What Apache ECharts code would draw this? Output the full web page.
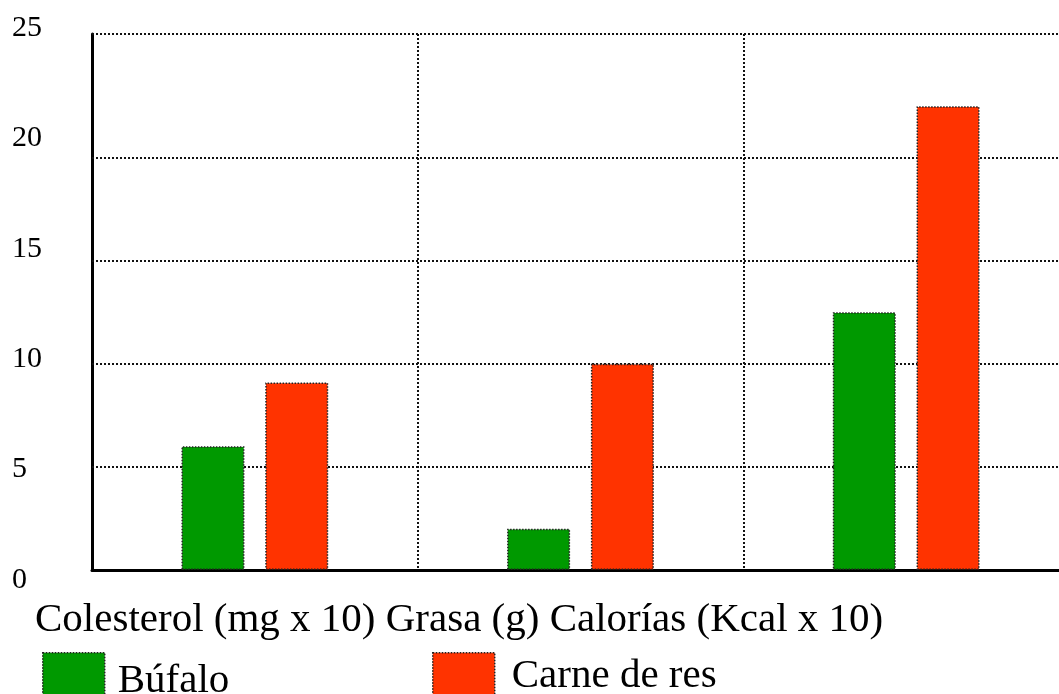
<!DOCTYPE html>
<html>
<head>
<meta charset="utf-8">
<script src="https://cdn.jsdelivr.net/npm/echarts@6/dist/echarts.min.js"></script>
<style>
html,body{margin:0;padding:0;background:#fff;overflow:hidden;}
#chart{width:1069px;height:694px;}
</style>
</head>
<body>
<div id="chart"></div>
<script>
var categories = ['Colesterol (mg x 10)', 'Grasa (g)', 'Calorías (Kcal x 10)'];
var seriesNames = ['Búfalo', 'Carne de res'];
var bufaloValues = [6, 2, 12.5];
var carneValues = [9.1, 10, 22.5];
var gridLineValues = [5, 10, 15, 20, 26];

var FONT = 'Liberation Serif';
var chart = echarts.init(document.getElementById('chart'), null, {renderer: 'canvas'});

var barBorder = {borderColor: '#222', borderWidth: 1.5, borderType: 'dotted'};
var gridLine = {color: '#111', width: 2, type: [2, 2]};

var option = {
  animation: false,
  backgroundColor: '#ffffff',
  title: {
    text: categories.join(' '),
    left: 35,
    top: 600,
    padding: 0,
    textStyle: {fontFamily: FONT, fontSize: 41, fontWeight: 'normal', color: '#000'}
  },
  legend: [
    {
      data: [seriesNames[0]],
      left: 42, top: 652, padding: 0,
      itemWidth: 62, itemHeight: 42,
      icon: 'rect',
      itemStyle: barBorder,
      formatter: '{a|{name}}',
      textStyle: {
        fontFamily: FONT, fontSize: 41, color: '#000',
        rich: {a: {fontFamily: FONT, fontSize: 41, color: '#000', padding: [14, 0, 0, 8]}}
      }
    },
    {
      data: [seriesNames[1]],
      left: 432, top: 652, padding: 0,
      itemWidth: 62, itemHeight: 42,
      icon: 'rect',
      itemStyle: barBorder,
      formatter: '{a|{name}}',
      textStyle: {
        fontFamily: FONT, fontSize: 41, color: '#000',
        rich: {a: {fontFamily: FONT, fontSize: 41, color: '#000', padding: [4, 0, 0, 12]}}
      }
    }
  ],
  grid: [
    {left: 92, right: 0, top: 34, bottom: 124, containLabel: false},
    {left: 92, right: 10, top: 28, bottom: 114, containLabel: false}
  ],
  xAxis: [
    {
      type: 'category', gridIndex: 0, data: categories,
      axisLine: {show: true, lineStyle: {color: '#000', width: 3}},
      axisTick: {show: false},
      axisLabel: {show: false},
      splitLine: {
        show: true,
        interval: function (index) { return index === 1 || index === 2; },
        lineStyle: gridLine
      }
    },
    {type: 'category', gridIndex: 1, data: categories, show: false}
  ],
  yAxis: [
    {
      type: 'value', gridIndex: 0, min: 0, max: 26,
      axisLine: {show: true, lineStyle: {color: '#000', width: 3}},
      axisTick: {show: false},
      axisLabel: {show: false},
      splitLine: {show: false}
    },
    {
      type: 'value', gridIndex: 1, min: 0, max: 25, interval: 5,
      axisLine: {show: false},
      axisTick: {show: false},
      splitLine: {show: false},
      axisLabel: {show: true, align: 'left', margin: 80, fontFamily: FONT, fontSize: 30, color: '#000'}
    }
  ],
  series: [
    {
      name: seriesNames[0], type: 'bar', xAxisIndex: 0, yAxisIndex: 0,
      data: bufaloValues, barWidth: 63, barGap: '33%',
      itemStyle: Object.assign({color: '#009900'}, barBorder),
      z: 3,
      markLine: {
        silent: true, symbol: 'none', label: {show: false},
        lineStyle: gridLine,
        z: 1,
        data: gridLineValues.map(function (v) { return {yAxis: v}; })
      }
    },
    {
      name: seriesNames[1], type: 'bar', xAxisIndex: 0, yAxisIndex: 0,
      data: carneValues, barWidth: 63, barGap: '33%',
      itemStyle: Object.assign({color: '#FF3300'}, barBorder),
      z: 3
    }
  ]
};
chart.setOption(option);
</script>
</body>
</html>
